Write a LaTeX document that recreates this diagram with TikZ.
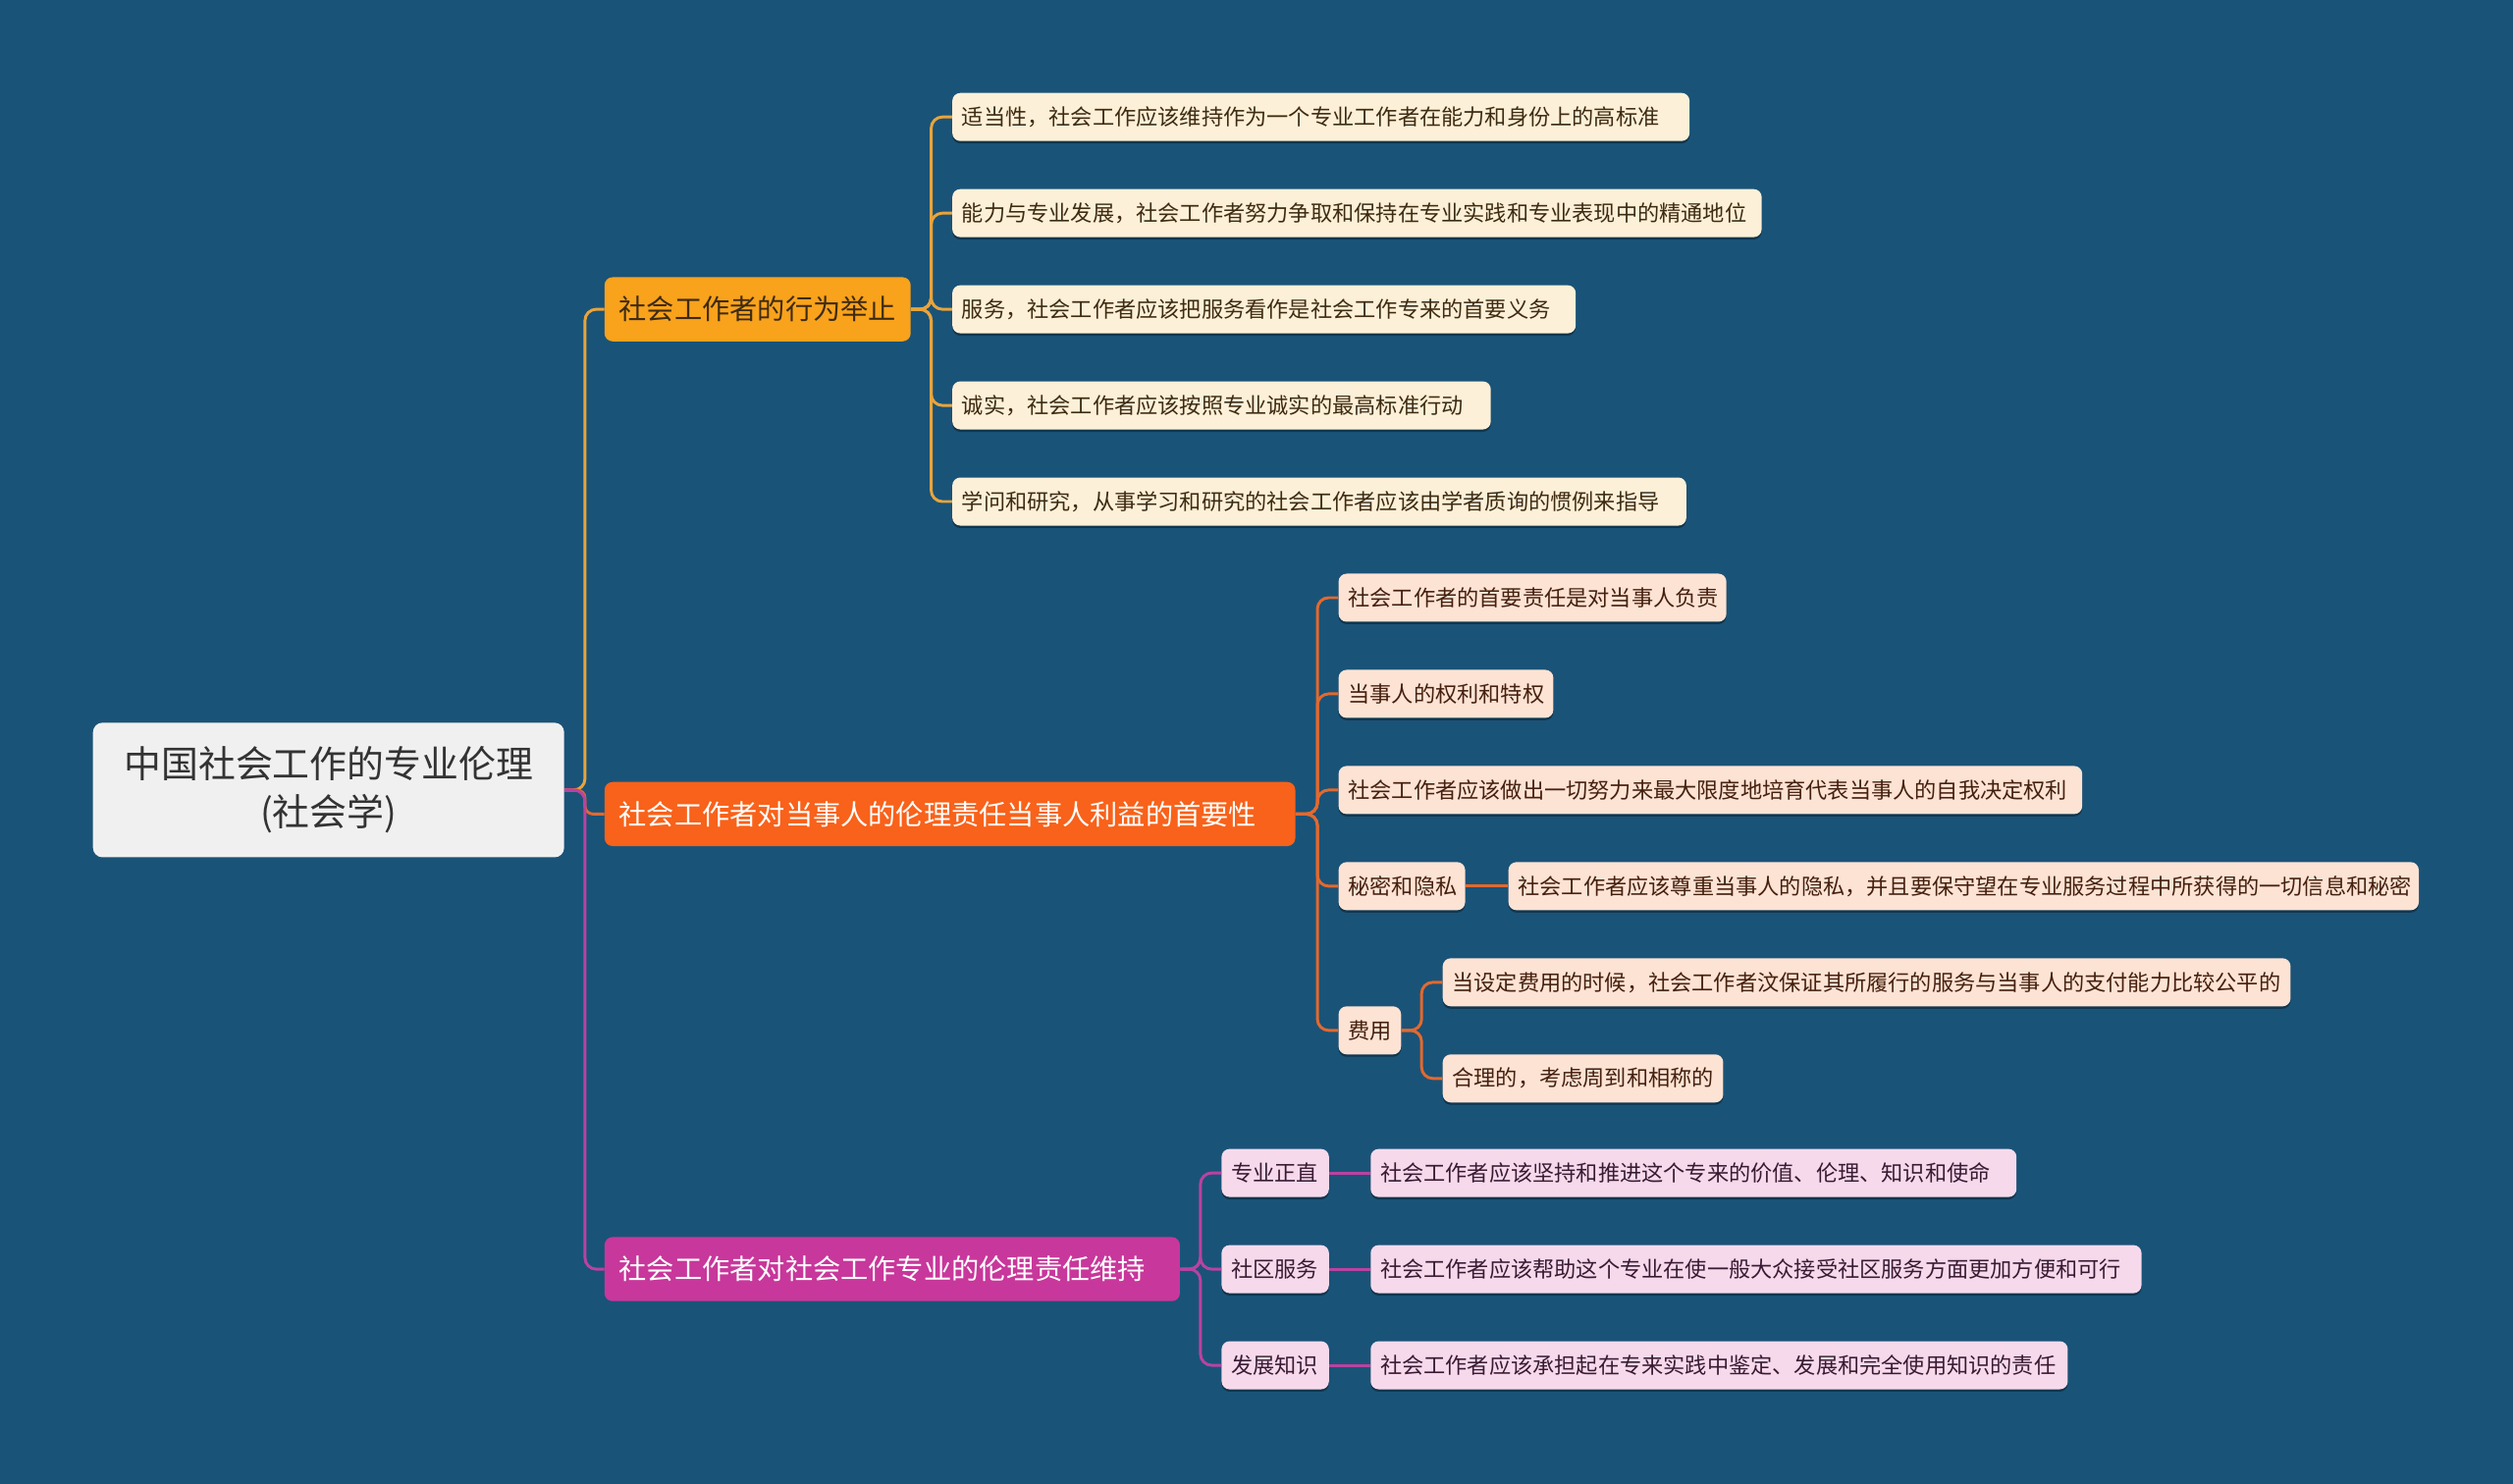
\documentclass[tikz,border=0pt]{standalone}
\usepackage{fontspec}
\newfontfamily\cjk{Noto Sans CJK SC}
\usetikzlibrary{shadows}
\definecolor{bg}{HTML}{1A5378}
\definecolor{rootfill}{HTML}{F0F0F0}
\definecolor{bAfill}{HTML}{F9A21C}
\definecolor{bAline}{HTML}{E8A43C}
\definecolor{bBfill}{HTML}{F8621A}
\definecolor{bBline}{HTML}{E2692E}
\definecolor{bCfill}{HTML}{C8379B}
\definecolor{bCline}{HTML}{B843A0}
\definecolor{lAfill}{HTML}{FDF0D8}
\definecolor{lBfill}{HTML}{FDE3D4}
\definecolor{lCfill}{HTML}{F6DAEC}
\definecolor{lAtext}{HTML}{3D2B12}
\definecolor{lBtext}{HTML}{45200F}
\definecolor{lCtext}{HTML}{3A1A32}
\tikzset{
  x=1pt, y=-1pt,
  box/.style={anchor=west, rounded corners=5pt, inner ysep=0pt, minimum height=30pt, align=left,
    drop shadow={shadow xshift=0pt, shadow yshift=-1.5pt, opacity=0.35, fill=black}},
  leafA/.style={box, fill=lAfill, text=lAtext, inner xsep=6pt, font=\cjk\fontsize{13.6}{16}\selectfont},
  leafB/.style={box, fill=lBfill, text=lBtext, inner xsep=6pt, font=\cjk\fontsize{13.6}{16}\selectfont},
  leafC/.style={box, fill=lCfill, text=lCtext, inner xsep=6pt, font=\cjk\fontsize{13.6}{16}\selectfont},
  branch/.style={anchor=west, rounded corners=5pt, inner xsep=9pt, inner ysep=0pt, minimum height=40pt, align=left,
    font=\cjk\fontsize{17.3}{20}\selectfont},
  conn/.style={line width=1.8pt, rounded corners=7pt},
}
\begin{document}
\begin{tikzpicture}
\fill[bg] (0,0) rectangle (1568,926);
\useasboundingbox (0,0) rectangle (1568,926);

% root
\node[fill=rootfill, rounded corners=6pt, minimum width=294pt, minimum height=84pt, inner sep=0pt,
  align=center, text=black!80, font=\cjk\fontsize{23.2}{30}\selectfont] (root) at (205,493)
  {中国社会工作的专业伦理\\(社会学)};

% branches
\node[branch, fill=bAfill, text=lAtext, text width=173pt] (bA) at (377,193) {社会工作者的行为举止};
\node[branch, fill=bBfill, text=white, text width=413pt] (bB) at (377,508) {社会工作者对当事人的伦理责任当事人利益的首要性};
\node[branch, fill=bCfill, text=white, text width=341pt] (bC) at (377,792) {社会工作者对社会工作专业的伦理责任维持};

% branch A leaves
\node[leafA, text width=448pt] (a1) at (594,73) {适当性，社会工作应该维持作为一个专业工作者在能力和身份上的高标准};
\node[leafA, text width=493pt] (a2) at (594,133) {能力与专业发展，社会工作者努力争取和保持在专业实践和专业表现中的精通地位};
\node[leafA, text width=377pt] (a3) at (594,193) {服务，社会工作者应该把服务看作是社会工作专来的首要义务};
\node[leafA, text width=324pt] (a4) at (594,253) {诚实，社会工作者应该按照专业诚实的最高标准行动};
\node[leafA, text width=446pt] (a5) at (594,313) {学问和研究，从事学习和研究的社会工作者应该由学者质询的惯例来指导};

% branch B leaves
\node[leafB, text width=230pt] (b1) at (835,373) {社会工作者的首要责任是对当事人负责};
\node[leafB, text width=122pt] (b2) at (835,433) {当事人的权利和特权};
\node[leafB, text width=452pt] (b3) at (835,493) {社会工作者应该做出一切努力来最大限度地培育代表当事人的自我决定权利};
\node[leafB, text width=67pt] (b4) at (835,553) {秘密和隐私};
\node[leafB, text width=556pt] (b41) at (941,553) {社会工作者应该尊重当事人的隐私，并且要保守望在专业服务过程中所获得的一切信息和秘密};
\node[leafB, text width=27pt] (b5) at (835,643) {费用};
\node[leafB, text width=517pt] (b51) at (900,613) {当设定费用的时候，社会工作者汶保证其所履行的服务与当事人的支付能力比较公平的};
\node[leafB, text width=163pt] (b52) at (900,673) {合理的，考虑周到和相称的};

% branch C leaves
\node[leafC, text width=55pt] (c1) at (762,732) {专业正直};
\node[leafC, text width=55pt] (c2) at (762,792) {社区服务};
\node[leafC, text width=55pt] (c3) at (762,852) {发展知识};
\node[leafC, text width=391pt] (c11) at (855,732) {社会工作者应该坚持和推进这个专来的价值、伦理、知识和使命};
\node[leafC, text width=469pt] (c21) at (855,792) {社会工作者应该帮助这个专业在使一般大众接受社区服务方面更加方便和可行};
\node[leafC, text width=423pt] (c31) at (855,852) {社会工作者应该承担起在专来实践中鉴定、发展和完全使用知识的责任};

% connectors root -> branches
\begin{scope}[on background layer/.style={}]
\draw[conn, bAline] (root.east) -- (365,493) -- (365,193) -- (bA.west);
\draw[conn, bBline, rounded corners=5pt] (root.east) -- (365,493) -- (365,508) -- (bB.west);
\draw[conn, bCline] (root.east) -- (365,493) -- (365,792) -- (bC.west);
\end{scope}

% branch A -> leaves
\foreach \n/\y in {a1/73,a2/133,a3/193,a4/253,a5/313}
  \draw[conn, bAline] (bA.east) -- (581,193) -- (581,\y) -- (\n.west);

% branch B -> leaves
\foreach \n/\y in {b1/373,b2/433,b3/493,b4/553,b5/643}
  \draw[conn, bBline] (bB.east) -- (822,508) -- (822,\y) -- (\n.west);
\draw[conn, bBline] (b4.east) -- (b41.west);
\foreach \n/\y in {b51/613,b52/673}
  \draw[conn, bBline] (b5.east) -- (887,643) -- (887,\y) -- (\n.west);

% branch C -> leaves
\foreach \n/\y in {c1/732,c2/792,c3/852}
  \draw[conn, bCline] (bC.east) -- (749,792) -- (749,\y) -- (\n.west);
\draw[conn, bCline] (c1.east) -- (c11.west);
\draw[conn, bCline] (c2.east) -- (c21.west);
\draw[conn, bCline] (c3.east) -- (c31.west);
\end{tikzpicture}
\end{document}
